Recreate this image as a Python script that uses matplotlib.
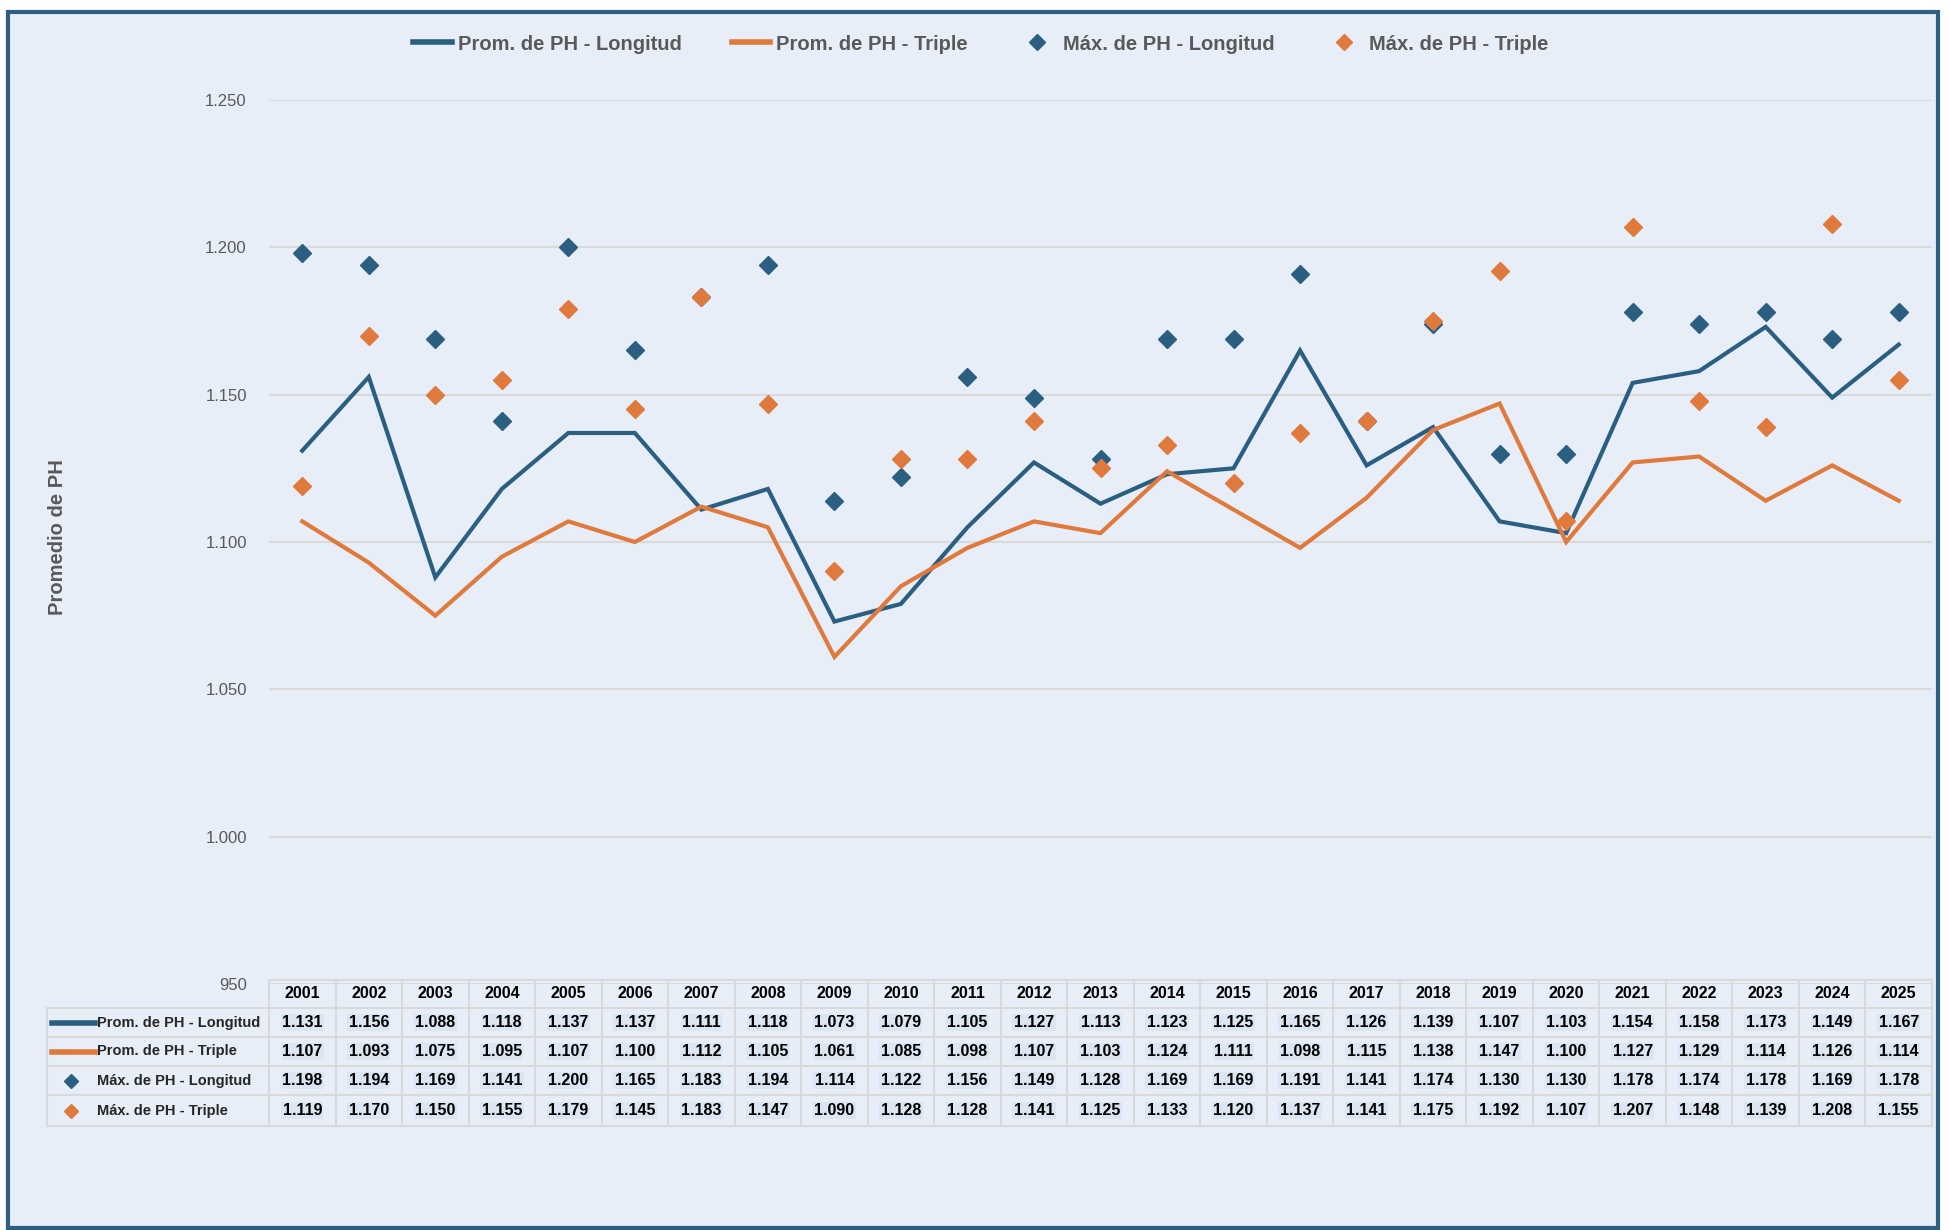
import numpy as np
import matplotlib
matplotlib.use("Agg")
import matplotlib.pyplot as plt
import matplotlib.transforms as mtransforms
from matplotlib.patches import Rectangle
from matplotlib.lines import Line2D

# Datos
years = [str(y) for y in range(2001, 2026)]
prom_longitud = [1131, 1156, 1088, 1118, 1137, 1137, 1111, 1118, 1073, 1079, 1105, 1127, 1113,
                 1123, 1125, 1165, 1126, 1139, 1107, 1103, 1154, 1158, 1173, 1149, 1167]
prom_triple = [1107, 1093, 1075, 1095, 1107, 1100, 1112, 1105, 1061, 1085, 1098, 1107, 1103,
               1124, 1111, 1098, 1115, 1138, 1147, 1100, 1127, 1129, 1114, 1126, 1114]
max_longitud = [1198, 1194, 1169, 1141, 1200, 1165, 1183, 1194, 1114, 1122, 1156, 1149, 1128,
                1169, 1169, 1191, 1141, 1174, 1130, 1130, 1178, 1174, 1178, 1169, 1178]
max_triple = [1119, 1170, 1150, 1155, 1179, 1145, 1183, 1147, 1090, 1128, 1128, 1141, 1125,
              1133, 1120, 1137, 1141, 1175, 1192, 1107, 1207, 1148, 1139, 1208, 1155]
series_names = ["Prom. de PH - Longitud", "Prom. de PH - Triple",
                "Máx. de PH - Longitud", "Máx. de PH - Triple"]

azul = "#2B5F82"
naranja = "#E07A3C"
gris = "#595959"
fondo = "#E7EEF8"
rejilla = "#D9D9D9"
fam = ["Liberation Sans", "DejaVu Sans"]
plt.rcParams["font.family"] = fam

def fmt(v):
    return f"{v:,.0f}".replace(",", ".")

W, H = 1950, 1230
fig = plt.figure(figsize=(W / 100, H / 100), dpi=100)
fig.patch.set_facecolor("white")

# marco con fondo
fig.patches.append(Rectangle((8 / W, 1 - 1228 / H), (1938 - 8) / W, (1228 - 12) / H,
                             transform=fig.transFigure, facecolor=fondo,
                             edgecolor="#2E5F80", lw=3, zorder=-5))

ax_left, ax_right = 269 / W, 1932 / W
ax_bottom, ax_top = 1 - 984 / H, 1 - 100 / H
ax = fig.add_axes([ax_left, ax_bottom, ax_right - ax_left, ax_top - ax_bottom])
ax.set_facecolor("none")

x = np.arange(len(years))
ax.plot(x, prom_longitud, color=azul, lw=3, zorder=3, solid_joinstyle="miter")
ax.plot(x, prom_triple, color=naranja, lw=3, zorder=4, solid_joinstyle="miter")
ax.plot(x, max_longitud, ls="none", marker="D", ms=9, color=azul, zorder=5)
ax.plot(x, max_triple, ls="none", marker="D", ms=9, color=naranja, zorder=6)

ax.set_xlim(-0.5, len(years) - 0.5)
ax.set_ylim(950, 1250)
ax.set_yticks(np.arange(950, 1251, 50))
ax.set_yticklabels([fmt(v) for v in np.arange(950, 1251, 50)])
ax.set_xticks([])
ax.tick_params(axis="y", length=0, pad=16, labelsize=12, labelcolor=gris)
ax.yaxis.grid(True, color=rejilla, lw=1.5)
ax.set_axisbelow(True)
for s in ax.spines.values():
    s.set_visible(False)

fig.text(58 / W, 1 - 537 / H, "Promedio de PH", rotation=90, ha="center", va="center",
         fontsize=14.5, fontweight="bold", color=gris)

# leyenda
handles = [Line2D([], [], color=azul, lw=4),
           Line2D([], [], color=naranja, lw=4),
           Line2D([], [], ls="none", marker="D", ms=8, color=azul),
           Line2D([], [], ls="none", marker="D", ms=8, color=naranja)]
leg = fig.legend(handles, series_names, loc="center", bbox_to_anchor=(0.503, 1 - 44 / H),
                 ncol=4, frameon=False, handlelength=1.9, handletextpad=0.3,
                 columnspacing=2.5, prop={"weight": "bold", "size": 14.5})
for t in leg.get_texts():
    t.set_color(gris)

# tabla de datos
trans = mtransforms.blended_transform_factory(ax.transData, fig.transFigure)
rows_y = [1 - v / H for v in [980, 1008, 1037, 1066, 1095, 1126]]
col_w = (ax_right - ax_left) / len(years)
lab_left = -0.5 - (ax_left - 47 / W) / col_w
right = len(years) - 0.5
lw_t = 1.5

ax.plot([-0.5, right], [rows_y[0]] * 2, transform=trans, color=rejilla, lw=lw_t, clip_on=False)
for yy in rows_y[1:]:
    ax.plot([lab_left, right], [yy] * 2, transform=trans, color=rejilla, lw=lw_t, clip_on=False)
for i in range(len(years) + 1):
    ax.plot([i - 0.5] * 2, [rows_y[0], rows_y[-1]], transform=trans, color=rejilla, lw=lw_t,
            clip_on=False)
ax.plot([lab_left] * 2, [rows_y[1], rows_y[-1]], transform=trans, color=rejilla, lw=lw_t,
        clip_on=False)

for i, yr in enumerate(years):
    ax.text(i, (rows_y[0] + rows_y[1]) / 2, yr, transform=trans, ha="center", va="center",
            fontsize=11.5, fontweight="bold", color="black")

table_rows = [prom_longitud, prom_triple, max_longitud, max_triple]
for r, vals in enumerate(table_rows):
    yc = (rows_y[r + 1] + rows_y[r + 2]) / 2
    for i, v in enumerate(vals):
        ax.text(i, yc, fmt(v), transform=trans, ha="center", va="center", fontsize=11.5,
                fontweight="bold", color="black",
                bbox=dict(facecolor="#DCE6F3", edgecolor="none", pad=1))
    # clave de la serie
    col = azul if r in (0, 2) else naranja
    if r < 2:
        fig.add_artist(Line2D([52 / W, 95 / W], [yc, yc], color=col, lw=4,
                              transform=fig.transFigure))
    else:
        fig.add_artist(Line2D([71 / W], [yc], ls="none", marker="D", ms=7, color=col,
                              transform=fig.transFigure))
    fig.text(97 / W, yc, series_names[r], ha="left", va="center", fontsize=10.5,
             fontweight="bold", color="#262626")

fig.savefig("out.png", dpi=100)
